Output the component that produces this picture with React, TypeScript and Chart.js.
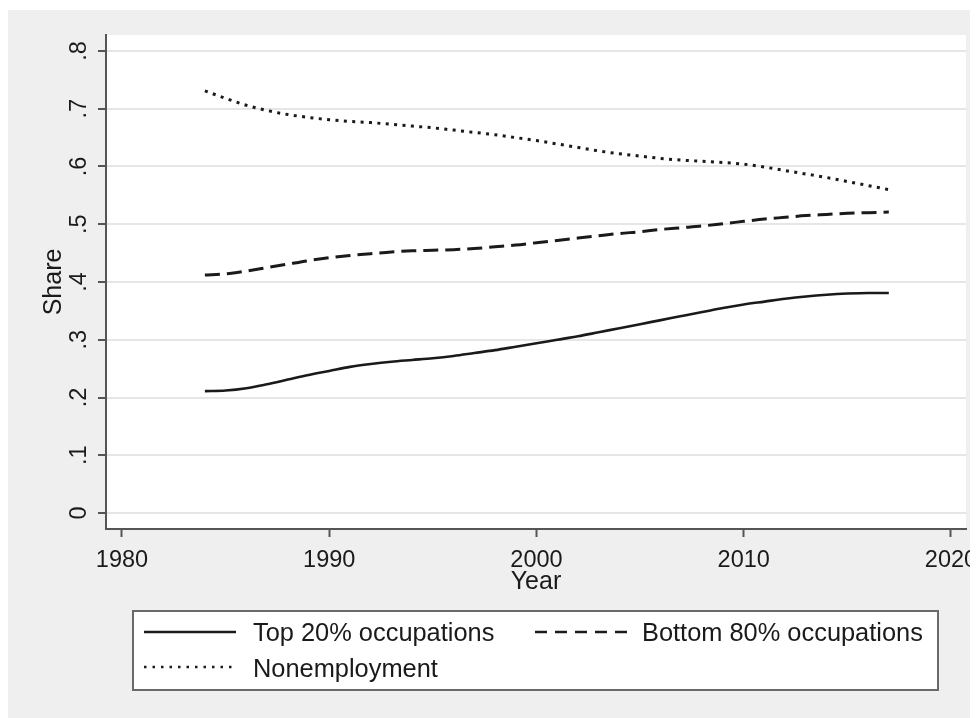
import React, { useEffect, useRef } from "react";
import { Chart, registerables } from "chart.js";

Chart.register(...registerables);

const years = [1984, 1985, 1986, 1987, 1988, 1989, 1990, 1991, 1992, 1993, 1994, 1995, 1996, 1997, 1998, 1999, 2000, 2001, 2002, 2003, 2004, 2005, 2006, 2007, 2008, 2009, 2010, 2011, 2012, 2013, 2014, 2015, 2016, 2017];
const top20 = [0.211, 0.212, 0.216, 0.223, 0.231, 0.239, 0.246, 0.253, 0.258, 0.262, 0.265, 0.268, 0.272, 0.277, 0.282, 0.288, 0.294, 0.3, 0.306, 0.313, 0.32, 0.327, 0.334, 0.341, 0.348, 0.355, 0.361, 0.366, 0.371, 0.375, 0.378, 0.38, 0.381, 0.381];
const bottom80 = [0.412, 0.414, 0.419, 0.425, 0.431, 0.437, 0.442, 0.446, 0.449, 0.452, 0.454, 0.455, 0.456, 0.458, 0.461, 0.464, 0.468, 0.472, 0.476, 0.48, 0.484, 0.487, 0.491, 0.494, 0.497, 0.501, 0.505, 0.509, 0.512, 0.515, 0.517, 0.519, 0.52, 0.521];
const nonemp = [0.731, 0.718, 0.706, 0.697, 0.69, 0.685, 0.681, 0.678, 0.676, 0.673, 0.67, 0.667, 0.663, 0.659, 0.655, 0.65, 0.645, 0.639, 0.633, 0.627, 0.622, 0.618, 0.614, 0.611, 0.609, 0.607, 0.604, 0.599, 0.593, 0.587, 0.581, 0.574, 0.567, 0.56];

const xTicks = [1980, 1990, 2000, 2010, 2020];
const yTicks = [0, 0.1, 0.2, 0.3, 0.4, 0.5, 0.6, 0.7, 0.8];
const yTickLabels = ["0", ".1", ".2", ".3", ".4", ".5", ".6", ".7", ".8"];
const seriesNames = ["Top 20% occupations", "Bottom 80% occupations", "Nonemployment"];

const FONT = '"Liberation Sans", Arial, sans-serif';
const LINE = "#1a1a1a";
const AXIS = "#555555";
const DASH = [15, 7];
const DOT = [3, 5.4];

export default function App() {
  const ref = useRef<HTMLCanvasElement>(null);
  useEffect(() => {
    document.body.style.overflow = "hidden";
    const canvas = ref.current!;
    const bgPlugin = {
      id: "bgPlugin",
      beforeDraw(chart: any) {
        const { ctx, chartArea: a } = chart;
        ctx.save();
        ctx.fillStyle = "#ffffff";
        ctx.fillRect(a.left, a.top, a.right - a.left, a.bottom - a.top);
        ctx.restore();
      },
      afterDraw(chart: any) {
        const { ctx, chartArea: a } = chart;
        const xs = chart.scales.x;
        const ys = chart.scales.y;
        ctx.save();
        ctx.fillStyle = "#1a1a1a";
        ctx.font = `23.5px ${FONT}`;
        ctx.textAlign = "center";
        ctx.textBaseline = "alphabetic";
        xTicks.forEach((v) => {
          ctx.fillText(String(v), xs.getPixelForValue(v), 557);
        });
        yTicks.forEach((v, i) => {
          ctx.save();
          ctx.translate(78, ys.getPixelForValue(v));
          ctx.rotate(-Math.PI / 2);
          ctx.textAlign = "center";
          ctx.fillText(yTickLabels[i], 0, 0);
          ctx.restore();
        });
        ctx.font = `25px ${FONT}`;
        ctx.textAlign = "center";
        ctx.fillText("Year", (a.left + a.right) / 2, 579);
        ctx.save();
        ctx.translate(53, (a.top + a.bottom) / 2);
        ctx.rotate(-Math.PI / 2);
        ctx.fillText("Share", 0, 0);
        ctx.restore();
        const bx = 125, by = 601, bw = 805, bh = 79;
        ctx.fillStyle = "#ffffff";
        ctx.fillRect(bx, by, bw, bh);
        ctx.strokeStyle = "#6a6a6a";
        ctx.lineWidth = 2;
        ctx.strokeRect(bx, by, bw, bh);
        const drawSample = (x0: number, x1: number, y: number, dash: number[], w: number) => {
          ctx.save();
          ctx.strokeStyle = LINE;
          ctx.lineWidth = w;
          ctx.setLineDash(dash);
          ctx.beginPath();
          ctx.moveTo(x0, y);
          ctx.lineTo(x1, y);
          ctx.stroke();
          ctx.restore();
        };
        drawSample(136, 228, 622, [], 2.5);
        drawSample(527, 620, 622, [12, 8], 2.5);
        drawSample(136, 228, 657, [2.5, 6], 2.5);
        ctx.fillStyle = "#1a1a1a";
        ctx.font = `25.4px ${FONT}`;
        ctx.textAlign = "left";
        ctx.fillText(seriesNames[0], 245, 631);
        ctx.fillText(seriesNames[1], 634, 631);
        ctx.fillText(seriesNames[2], 245, 667);
        ctx.restore();
      },
    };

    const mk = (vals: number[]) => years.map((y, i) => ({ x: y, y: vals[i] }));
    const chart = new Chart(canvas, {
      type: "line",
      data: {
        datasets: [
          { label: seriesNames[0], data: mk(top20), borderColor: LINE, borderWidth: 2.6, pointRadius: 0, tension: 0.4, cubicInterpolationMode: "monotone" },
          { label: seriesNames[1], data: mk(bottom80), borderColor: LINE, borderWidth: 3, borderDash: DASH, pointRadius: 0, tension: 0.4, cubicInterpolationMode: "monotone" },
          { label: seriesNames[2], data: mk(nonemp), borderColor: LINE, borderWidth: 3, borderDash: DOT, pointRadius: 0, tension: 0.4, cubicInterpolationMode: "monotone" },
        ],
      } as any,
      options: {
        animation: false,
        responsive: false,
        devicePixelRatio: 1,
        layout: { padding: { left: 90, right: 12, top: 25, bottom: 181 } },
        plugins: { legend: { display: false }, tooltip: { enabled: false }, title: { display: false } },
        scales: {
          x: {
            type: "linear",
            min: 1979.228,
            max: 2020.724,
            afterBuildTicks: (axis: any) => {
              axis.ticks = xTicks.map((v) => ({ value: v }));
            },
            ticks: { display: false },
            grid: { display: true, drawOnChartArea: false, drawTicks: true, tickLength: 8, tickColor: AXIS, tickWidth: 2 },
            border: { display: true, color: AXIS, width: 2 },
          },
          y: {
            type: "linear",
            min: -0.0277,
            max: 0.8277,
            afterBuildTicks: (axis: any) => {
              axis.ticks = yTicks.map((v) => ({ value: v }));
            },
            ticks: { display: false },
            grid: { display: true, color: "#e6e6e6", lineWidth: 2, drawTicks: true, tickLength: 8, tickColor: AXIS, tickWidth: 2 },
            border: { display: true, color: AXIS, width: 2 },
          },
        },
      } as any,
      plugins: [bgPlugin],
    });
    return () => chart.destroy();
  }, []);

  return (
    <div style={{ marginTop: 2, width: 970, height: 708, background: "#efefef" }}>
      <canvas ref={ref} width={970} height={708} style={{ display: "block" }} />
    </div>
  );
}
